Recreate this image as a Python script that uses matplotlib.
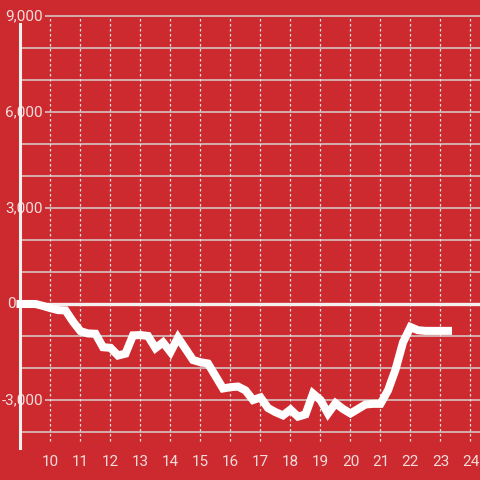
import matplotlib.pyplot as plt

# time of day (HH:MM) and cumulative value
times = ["09:00", "09:15", "09:30", "09:45", "10:00", "10:15", "10:30", "10:45",
         "11:00", "11:15", "11:30", "11:45", "12:00", "12:15", "12:30", "12:45",
         "13:00", "13:15", "13:30", "13:45", "14:00", "14:15", "14:30", "14:45",
         "15:00", "15:15", "15:30", "15:45", "16:00", "16:15", "16:30", "16:45",
         "17:00", "17:15", "17:30", "17:45", "18:00", "18:15", "18:30", "18:45",
         "19:00", "19:15", "19:30", "19:45", "20:00", "20:15", "20:30", "20:45",
         "21:00", "21:15", "21:30", "21:45", "22:00", "22:15", "22:30", "22:45",
         "23:00", "23:15"]
values = [0, 0, 0, -60, -130, -190, -200, -550,
          -850, -920, -930, -1350, -1370, -1610, -1550, -980,
          -970, -1000, -1380, -1200, -1500, -1050, -1400, -1750,
          -1820, -1860, -2250, -2640, -2600, -2580, -2700, -3000,
          -2920, -3250, -3380, -3480, -3300, -3520, -3450, -2800,
          -3000, -3420, -3100, -3280, -3420, -3280, -3140, -3120,
          -3120, -2700, -2050, -1200, -720, -820, -840, -840,
          -840, -840]

x_ticks = list(range(10, 25))
y_grid = [-4000, -3000, -2000, -1000, 1000, 2000, 3000, 4000, 5000, 6000, 7000, 8000, 9000]
y_labels = [9000, 6000, 3000, 0, -3000]

hours = [int(t[:2]) + int(t[3:]) / 60 for t in times]

bg = '#cc2a2f'
txt = '#f3dcdc'
plt.rcParams['font.family'] = ['Roboto', 'DejaVu Sans']

fig = plt.figure(figsize=(4.8, 4.8), dpi=100, facecolor=bg)
ax = fig.add_axes([20 / 480, 32 / 480, 460 / 480, 448 / 480])
ax.set_facecolor(bg)
ax.set_xlim(9 - 0.5 / 30, 24.3167)
ax.set_ylim(-4500, 9500)

# grid
ax.hlines(y_grid, 9, 24.32, color='#d6d0d0', lw=1.1, zorder=1)
ax.vlines(x_ticks, -4280, 9000, color='#e6e0e0', lw=0.9, linestyles=(0, (2, 2)), zorder=1)
ax.hlines(0, 8.88, 24.32, color='#f5f0f0', lw=2.4, zorder=2, clip_on=False)

# y labels with background covering grid
for v in y_labels:
    xpos = 8.83 if v == 0 else 9.75
    ax.text(xpos, v, f"{v:,}", ha='right', va='center', color=txt,
            fontsize=11, zorder=2.2,
            bbox=dict(facecolor=bg, edgecolor='none', pad=1.5))

ax.plot(hours, values, color='white', lw=5.8, solid_capstyle='projecting',
        solid_joinstyle='miter', zorder=3, clip_on=False)

for s in ['top', 'right', 'bottom']:
    ax.spines[s].set_visible(False)
ax.spines['left'].set_color('#f5f0f0')
ax.spines['left'].set_linewidth(2.2)
ax.spines['left'].set_bounds(-4500, 8750)
ax.spines['left'].set_zorder(2.5)

ax.set_yticks([])
ax.set_xticks(x_ticks)
ax.set_xticklabels([str(t) for t in x_ticks])
ax.tick_params(axis='x', length=0, pad=5, labelsize=11, labelcolor=txt)

fig.savefig('out.png', dpi=100, facecolor=bg)
